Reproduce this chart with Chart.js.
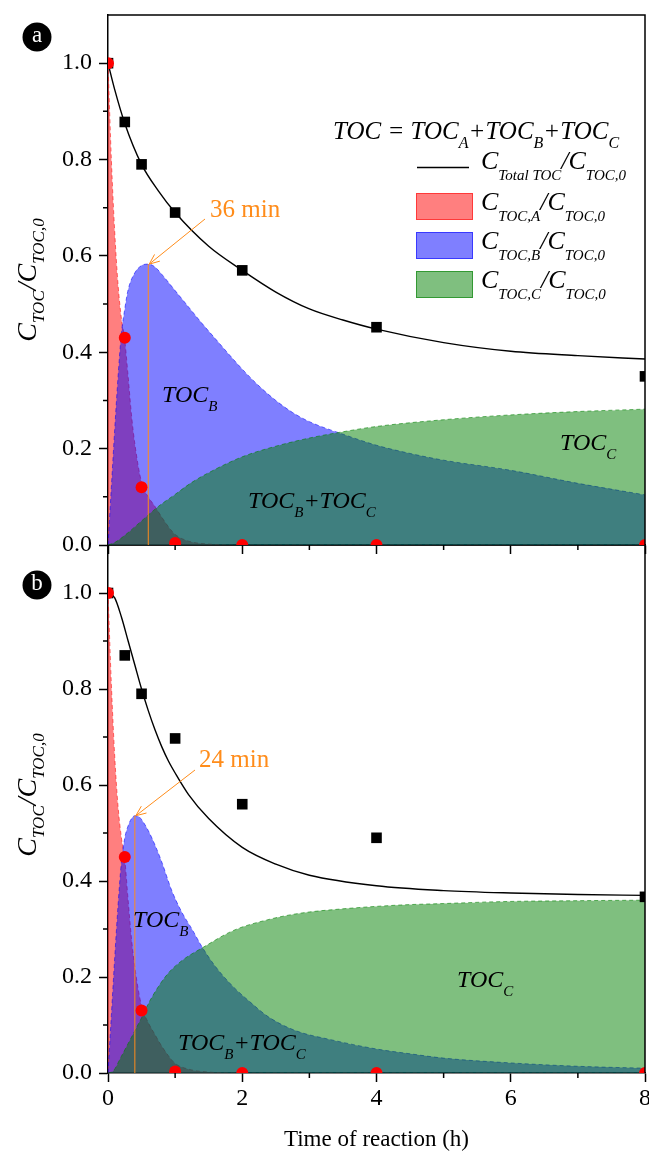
<!DOCTYPE html>
<html><head><meta charset="utf-8">
<script src="https://cdn.jsdelivr.net/npm/chart.js@4.4.0/dist/chart.umd.min.js"></script>
<style>
html,body{margin:0;padding:0;background:#fff;}
#wrap{position:relative;width:649px;height:1165px;overflow:hidden;background:#fff;}
canvas{position:absolute;left:0;top:0;}
</style></head>
<body><div id="wrap"><canvas id="cb" width="649" height="1165"></canvas><canvas id="ca" width="649" height="1165"></canvas></div>
<script>
// ---------- tick values ----------
const xMajorTicks = [0, 2, 4, 6, 8];
const xMinorTicks = [1, 3, 5, 7];
const yMajorTicks = [0.0, 0.2, 0.4, 0.6, 0.8, 1.0];
const yMinorTicks = [0.1, 0.3, 0.5, 0.7, 0.9];

// ---------- panel a ----------
const aTotalT = [0, 0.1, 0.25, 0.5, 0.75, 1, 1.5, 2, 2.5, 3, 3.5, 4, 5, 6, 7, 8];
const aTotalV = [1.0, 0.945, 0.875, 0.79, 0.735, 0.69, 0.62, 0.57, 0.525, 0.49, 0.467, 0.448, 0.42, 0.402, 0.393, 0.386];
const aRedT = [0, 0.05, 0.1, 0.15, 0.2, 0.25, 0.3, 0.35, 0.4, 0.5, 0.6, 0.7, 0.8, 0.9, 1.0, 1.2, 1.5, 2, 8];
const aRedV = [1.0, 0.8, 0.65, 0.54, 0.47, 0.425, 0.35, 0.27, 0.21, 0.13, 0.1, 0.08, 0.058, 0.038, 0.022, 0.008, 0.002, 0, 0];
const aBlueT = [0, 0.05, 0.1, 0.15, 0.2, 0.25, 0.3, 0.4, 0.5, 0.6, 0.7, 0.8, 1.0, 1.2, 1.4, 1.6, 1.8, 2.0, 2.25, 2.5, 2.75, 3, 3.5, 4, 4.5, 5, 6, 7, 8];
const aBlueV = [0, 0.12, 0.24, 0.35, 0.44, 0.49, 0.53, 0.565, 0.58, 0.583, 0.577, 0.562, 0.528, 0.494, 0.46, 0.428, 0.396, 0.365, 0.33, 0.3, 0.275, 0.256, 0.23, 0.207, 0.19, 0.176, 0.155, 0.128, 0.104];
const aGreenT = [0, 0.1, 0.25, 0.5, 0.75, 1, 1.25, 1.5, 2, 2.5, 3, 3.5, 4, 5, 6, 7, 8];
const aGreenV = [0, 0.005, 0.02, 0.05, 0.08, 0.105, 0.13, 0.15, 0.183, 0.205, 0.222, 0.235, 0.246, 0.26, 0.27, 0.277, 0.282];
const aSquareT = [0, 0.25, 0.5, 1, 2, 4, 8];
const aSquareV = [1.0, 0.878, 0.79, 0.69, 0.57, 0.452, 0.35];
const aDotT = [0, 0.25, 0.5, 1, 2, 4, 8];
const aDotV = [1.0, 0.43, 0.12, 0.004, 0, 0, 0];
const aPeak = [0.6, 0.583];   // 36 min
const aPeakLabel = '36 min';

// ---------- panel b ----------
const bTotalT = [0, 0.1, 0.2, 0.3, 0.4, 0.5, 0.6, 0.7, 0.8, 0.9, 1.0, 1.2, 1.5, 2, 2.5, 3, 4, 5, 6, 7, 8];
const bTotalV = [1.0, 0.99, 0.95, 0.9, 0.85, 0.8, 0.755, 0.715, 0.68, 0.65, 0.625, 0.58, 0.53, 0.47, 0.435, 0.412, 0.39, 0.38, 0.375, 0.372, 0.37];
const bRedT = [0, 0.05, 0.1, 0.15, 0.2, 0.25, 0.3, 0.35, 0.4, 0.5, 0.6, 0.7, 0.8, 0.9, 1.0, 1.2, 1.5, 2, 8];
const bRedV = [1.0, 0.81, 0.66, 0.555, 0.49, 0.445, 0.36, 0.28, 0.22, 0.14, 0.105, 0.08, 0.056, 0.036, 0.02, 0.008, 0.002, 0, 0];
const bBlueT = [0, 0.05, 0.1, 0.15, 0.2, 0.25, 0.3, 0.35, 0.4, 0.45, 0.5, 0.6, 0.7, 0.8, 0.95, 1.1, 1.25, 1.4, 1.6, 1.85, 2.1, 2.4, 2.8, 3.3, 4, 4.5, 5, 6, 7, 8];
const bBlueV = [0, 0.12, 0.24, 0.35, 0.44, 0.49, 0.515, 0.53, 0.536, 0.535, 0.528, 0.505, 0.475, 0.44, 0.38, 0.335, 0.3, 0.263, 0.222, 0.182, 0.15, 0.116, 0.088, 0.07, 0.05, 0.04, 0.031, 0.021, 0.014, 0.01];
const bGreenT = [0, 0.07, 0.2, 0.37, 0.5, 0.63, 0.88, 1.1, 1.42, 1.87, 2.4, 2.87, 3.5, 4.36, 5, 5.85, 7, 8];
const bGreenV = [0, 0.003, 0.035, 0.08, 0.115, 0.152, 0.205, 0.234, 0.262, 0.297, 0.32, 0.333, 0.342, 0.35, 0.353, 0.357, 0.359, 0.36];
const bSquareT = [0, 0.25, 0.5, 1, 2, 4, 8];
const bSquareV = [1.0, 0.87, 0.79, 0.697, 0.56, 0.49, 0.367];
const bDotT = [0, 0.25, 0.5, 1, 2, 4, 8];
const bDotV = [1.0, 0.45, 0.13, 0.003, 0, 0, 0];
const bPeak = [0.4, 0.536];   // 24 min
const bPeakLabel = '24 min';

// ---------- text ----------
const xTitle = 'Time of reaction (h)';
const legendRows = [
  [['C', 0], ['Total TOC', 1], ['/', 0], ['C', 0], ['TOC,0', 1]],
  [['C', 0], ['TOC,A', 1], ['/', 0], ['C', 0], ['TOC,0', 1]],
  [['C', 0], ['TOC,B', 1], ['/', 0], ['C', 0], ['TOC,0', 1]],
  [['C', 0], ['TOC,C', 1], ['/', 0], ['C', 0], ['TOC,0', 1]]
];
const equation = [['TOC = TOC', 0], ['A', 1], ['+TOC', 0], ['B', 1], ['+TOC', 0], ['C', 1]];
const yTitle = [['C', 0], ['TOC', 1], ['/', 0], ['C', 0], ['TOC,0', 1]];

const FONT = "'Liberation Serif','Times New Roman',Times,serif";
const RED_FILL = 'rgba(255,0,0,0.5)', RED_EDGE = 'rgba(255,0,0,0.55)';
const BLUE_FILL = 'rgba(0,0,255,0.5)', BLUE_EDGE = 'rgba(0,0,255,0.55)';
const GREEN_FILL = 'rgba(0,128,0,0.5)', GREEN_EDGE = 'rgba(0,128,0,0.6)';
const ORANGE = '#FF8C1A';

function pts(ts, vs) { return ts.map((t, i) => ({x: t, y: vs[i]})); }

function segFont(sz, italic) { return (italic ? 'italic ' : '') + sz + 'px ' + FONT; }
function richWidth(ctx, segs, big, small) {
  let w = 0;
  for (const s of segs) { ctx.font = segFont(s[1] ? small : big, true); w += ctx.measureText(s[0]).width; }
  return w;
}
function drawRich(ctx, x, y, segs, big, small, dy, color) {
  ctx.fillStyle = color || '#000';
  ctx.textAlign = 'left';
  ctx.textBaseline = 'alphabetic';
  for (const s of segs) {
    const sz = s[1] ? small : big;
    ctx.font = segFont(sz, true);
    ctx.fillText(s[0], x, y + (s[1] ? dy : 0));
    x += ctx.measureText(s[0]).width;
  }
}

function makeDecor(P) {
  return {
    id: 'decor' + P.name,
    afterDraw(chart) {
      const ctx = chart.ctx;
      const {left, right, top, bottom} = chart.chartArea;
      const xs = chart.scales.x, ys = chart.scales.y;
      ctx.save();
      ctx.strokeStyle = '#000';
      ctx.lineWidth = 1.5;
      ctx.beginPath();
      ctx.moveTo(left, top); ctx.lineTo(right, top); ctx.lineTo(right, bottom);
      ctx.stroke();
      ctx.beginPath();
      for (const v of yMinorTicks) { const y = ys.getPixelForValue(v); ctx.moveTo(left - 5, y); ctx.lineTo(left, y); }
      for (const v of xMinorTicks) { const x = xs.getPixelForValue(v); ctx.moveTo(x, bottom); ctx.lineTo(x, bottom + 5); }
      ctx.stroke();

      // arrow to peak
      const px = xs.getPixelForValue(P.peak[0]), py = ys.getPixelForValue(P.peak[1]);
      const sx = P.arrowFrom[0], sy = P.arrowFrom[1];
      ctx.strokeStyle = ORANGE; ctx.lineWidth = 1;
      ctx.beginPath(); ctx.moveTo(sx, sy); ctx.lineTo(px + 1, py); ctx.stroke();
      const ang = Math.atan2(py - sy, px - sx);
      ctx.beginPath();
      ctx.moveTo(px + 1 - 11 * Math.cos(ang - 0.4), py - 11 * Math.sin(ang - 0.4));
      ctx.lineTo(px + 1, py);
      ctx.lineTo(px + 1 - 11 * Math.cos(ang + 0.4), py - 11 * Math.sin(ang + 0.4));
      ctx.stroke();
      ctx.fillStyle = ORANGE;
      ctx.font = '25px ' + FONT;
      ctx.textAlign = 'left'; ctx.textBaseline = 'alphabetic';
      ctx.fillText(P.peakLabel, P.peakLabelPos[0], P.peakLabelPos[1]);

      drawRich(ctx, P.labB[0], P.labB[1], [['TOC', 0], ['B', 1]], 24, 15, 9);
      drawRich(ctx, P.labBC[0], P.labBC[1], [['TOC', 0], ['B', 1], ['+TOC', 0], ['C', 1]], 24, 15, 9);
      drawRich(ctx, P.labC[0], P.labC[1], [['TOC', 0], ['C', 1]], 24, 15, 9);

      ctx.fillStyle = '#000';
      ctx.beginPath(); ctx.arc(P.circle[0], P.circle[1], 14.5, 0, Math.PI * 2); ctx.fill();
      ctx.fillStyle = '#fff';
      ctx.font = '23px ' + FONT;
      ctx.textAlign = 'center'; ctx.textBaseline = 'middle';
      ctx.fillText(P.name, P.circle[0], P.circle[1] - 1);

      ctx.save();
      ctx.translate(36, P.yTitleCenter);
      ctx.rotate(-Math.PI / 2);
      const w = richWidth(ctx, yTitle, 28, 17);
      drawRich(ctx, -w / 2, 0, yTitle, 28, 17, 8);
      ctx.restore();

      if (P.legend) {
        drawRich(ctx, 333, 139, equation, 25, 16, 9);
        ctx.strokeStyle = '#000'; ctx.lineWidth = 1.3;
        ctx.beginPath(); ctx.moveTo(417, 167.5); ctx.lineTo(469, 167.5); ctx.stroke();
        const boxes = [[193, RED_FILL, RED_EDGE], [232, BLUE_FILL, BLUE_EDGE], [271, GREEN_FILL, GREEN_EDGE]];
        for (const b of boxes) {
          ctx.fillStyle = b[1]; ctx.fillRect(416, b[0], 57, 27);
          ctx.strokeStyle = b[2]; ctx.lineWidth = 1; ctx.strokeRect(416.5, b[0] + 0.5, 56, 26);
        }
        const baselines = [169, 210, 249, 288];
        legendRows.forEach((r, i) => drawRich(ctx, 481, baselines[i], r, 26, 15, 11));
      }
      ctx.restore();
    }
  };
}

function makeChart(canvasId, P) {
  const tickFont = {family: FONT, size: 24};
  const datasets = [
    {data: pts(P.dotT, P.dotV), showLine: false, pointStyle: 'circle', pointRadius: 6, pointBackgroundColor: '#ff0000', pointBorderWidth: 0, borderColor: '#ff0000', order: 0, clip: 0},
    {data: pts(P.sqT, P.sqV), showLine: false, pointStyle: 'rect', pointRadius: 7.5, pointBackgroundColor: '#000', pointBorderWidth: 0, borderColor: '#000', order: 1, clip: 0},
    {data: pts(P.totT, P.totV), borderColor: '#000', borderWidth: 1.4, pointRadius: 0, fill: false, cubicInterpolationMode: 'monotone', order: 2},
    {data: [{x: P.peak[0], y: 0}, {x: P.peak[0], y: P.peak[1]}], borderColor: ORANGE, borderWidth: 1, pointRadius: 0, fill: false, order: 3},
    {data: pts(P.gT, P.gV), borderColor: GREEN_EDGE, borderDash: [4, 3], borderWidth: 1, backgroundColor: GREEN_FILL, fill: 'origin', pointRadius: 0, cubicInterpolationMode: 'monotone', order: 4},
    {data: pts(P.bT, P.bV), borderColor: BLUE_EDGE, borderDash: [4, 3], borderWidth: 1, backgroundColor: BLUE_FILL, fill: 'origin', pointRadius: 0, cubicInterpolationMode: 'monotone', order: 5},
    {data: pts(P.rT, P.rV), borderColor: RED_EDGE, borderDash: [4, 3], borderWidth: 1, backgroundColor: RED_FILL, fill: 'origin', pointRadius: 0, cubicInterpolationMode: 'monotone', order: 6}
  ];
  return new Chart(document.getElementById(canvasId), {
    type: 'line',
    data: {datasets},
    options: {
      responsive: false, animation: false, devicePixelRatio: 1,
      layout: {autoPadding: false, padding: {left: 0, right: 4, top: P.padTop, bottom: P.padBottom}},
      plugins: {legend: {display: false}, tooltip: {enabled: false}},
      scales: {
        x: {
          type: 'linear', min: 0, max: 8, z: 1,
          ticks: {stepSize: 1, display: P.showX, autoSkip: false, maxRotation: 0, padding: 2, color: '#000', font: tickFont,
            callback: v => xMajorTicks.includes(v) ? String(v) : ''},
          grid: {drawOnChartArea: false, drawTicks: true, tickLength: 9, tickWidth: 1.5,
            tickColor: c => (c.tick && xMajorTicks.includes(c.tick.value)) ? '#000' : 'rgba(0,0,0,0)'},
          border: {display: true, color: '#000', width: 1.5},
          title: {display: P.showX, text: xTitle, color: '#000', font: {family: FONT, size: 23}, padding: {top: 0, bottom: 11}},
          afterFit: s => { s.height = P.xAxisH; s.paddingLeft = 0; s.paddingRight = 0; }
        },
        y: {
          type: 'linear', min: 0, max: 1.1, z: 1,
          ticks: {stepSize: 0.1, autoSkip: false, padding: 7, color: '#000', font: tickFont,
            callback: v => yMajorTicks.some(m => Math.abs(m - v) < 1e-6) ? v.toFixed(1) : ''},
          grid: {drawOnChartArea: false, drawTicks: true, tickLength: 9, tickWidth: 1.5,
            tickColor: c => (c.tick && yMajorTicks.some(m => Math.abs(m - c.tick.value) < 1e-6)) ? '#000' : 'rgba(0,0,0,0)'},
          border: {display: true, color: '#000', width: 1.5},
          afterFit: s => { s.width = 108; s.paddingTop = 0; s.paddingBottom = 0; }
        }
      }
    },
    plugins: [makeDecor(P)]
  });
}

makeChart('ca', {
  name: 'a', padTop: 15, padBottom: 600, xAxisH: 20, showX: false,
  totT: aTotalT, totV: aTotalV, rT: aRedT, rV: aRedV, bT: aBlueT, bV: aBlueV, gT: aGreenT, gV: aGreenV,
  sqT: aSquareT, sqV: aSquareV, dotT: aDotT, dotV: aDotV, peak: aPeak, peakLabel: aPeakLabel,
  arrowFrom: [205, 219], peakLabelPos: [210, 217],
  labB: [162, 402], labBC: [248, 508], labC: [560, 450],
  circle: [37, 37], yTitleCenter: 280, legend: true
});
makeChart('cb', {
  name: 'b', padTop: 545, padBottom: 0, xAxisH: 92, showX: true,
  totT: bTotalT, totV: bTotalV, rT: bRedT, rV: bRedV, bT: bBlueT, bV: bBlueV, gT: bGreenT, gV: bGreenV,
  sqT: bSquareT, sqV: bSquareV, dotT: bDotT, dotV: bDotV, peak: bPeak, peakLabel: bPeakLabel,
  arrowFrom: [195, 770], peakLabelPos: [199, 767],
  labB: [133, 927], labBC: [178, 1050], labC: [457, 987],
  circle: [37, 585], yTitleCenter: 795, legend: false
});
</script>
</body></html>
